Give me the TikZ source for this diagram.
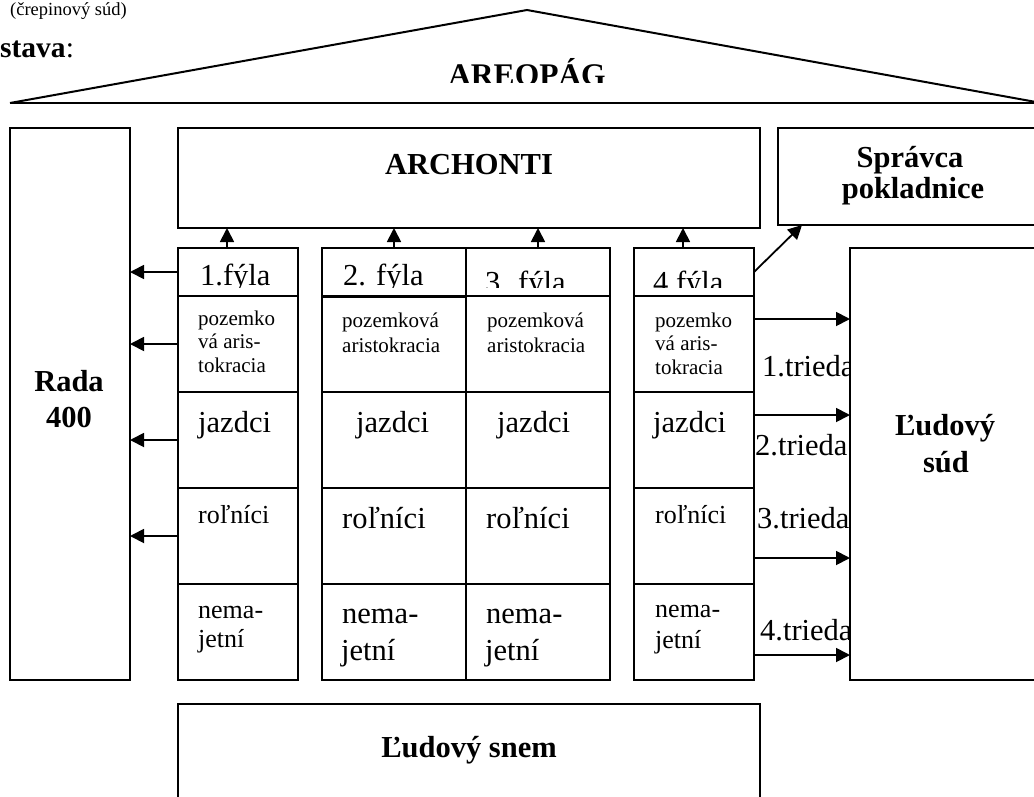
\documentclass[tikz,border=0pt]{standalone}
\usepackage{fontspec}
\setmainfont{Liberation Serif}
\usetikzlibrary{arrows.meta}
\begin{document}
\begin{tikzpicture}[x=1pt,y=-1pt,
  box/.style={draw, line width=2pt, inner sep=0pt, outer sep=0pt},
  arr/.style={line width=1.8pt, -{Triangle[length=14pt,width=14pt]}},
  big/.style={anchor=base west, inner sep=0pt, font=\fontsize{30.5}{34}\selectfont},
  med/.style={anchor=base west, inner sep=0pt, font=\fontsize{26}{29}\selectfont},
  small/.style={anchor=base west, inner sep=0pt, font=\fontsize{21}{23.5}\selectfont},
  ttl/.style={anchor=base, inner sep=0pt, font=\fontsize{30.5}{34}\selectfont\bfseries},
]
\useasboundingbox[fill=white] (0,0) rectangle (1034,796);

% header texts top-left
\node[anchor=base west, inner sep=0pt, font=\fontsize{18.5}{20}\selectfont] (crep) at (10,15) {(črepinový súd)};
\node[anchor=base west, inner sep=0pt, font=\fontsize{29.5}{32}\selectfont] (stava) at (0,57) {\textbf{stava}:};

% roof
\coordinate (roofL) at (10,103);
\coordinate (roofT) at (527,10);
\coordinate (roofR) at (1036,102);
\coordinate (baseR) at (1040,103);
\draw[line width=2pt] (roofL) -- (roofT) -- (roofR);
\draw[line width=2pt] (roofL) -- (baseR);
\begin{scope}
  \clip (0,0) rectangle (1034,82);
  \node[ttl, font=\fontsize{31.5}{34}\selectfont\bfseries] (areo) at (527,85) {AREOPÁG};
\end{scope}

% main boxes
\node[box, minimum width=120pt, minimum height=552pt] (rada) at (70,404) {};
\node[box, minimum width=582pt, minimum height=100pt] (arch) at (469,178) {};
\node[box, minimum width=267pt, minimum height=97pt] (sprav) at (911.5,176.5) {};
\node[box, minimum width=582pt, minimum height=106pt] (snem) at (469,757) {};

\node[ttl] (tarch) at (469,174) {ARCHONTI};
\node[ttl] (tspr1) at (910,167) {Správca};
\node[ttl] (tspr2) at (913,198) {pokladnice};
\node[ttl] (trada1) at (69,391) {Rada};
\node[ttl] (trada2) at (69,427) {400};
\node[ttl] (tsnem) at (469,757) {Ľudový snem};

% columns (fýly)
\foreach \c/\xl/\w in {1/178/120, 2/322/144, 3/466/144, 4/634/120} {
  \node[box, minimum width=\w pt, minimum height=48pt] (c\c-h) at ({\xl+\w/2}, 272) {};
  \foreach \r in {1,...,4}
    \node[box, minimum width=\w pt, minimum height=96pt] (c\c-\r) at ({\xl+\w/2}, {296+96*\r-48}) {};
}
\draw[line width=3pt] (c2-h.south west) -- (c2-h.south east);

% fýla headers (clipped at bottom)
\begin{scope}
  \clip (170,240) rectangle (760,287);
  \node[big] (h1) at (200,285) {1.fýla};
  \node[big] (h2) at (343,285) {2. fýla};
  \node[big] (h3) at (485,292) {3. fýla};
  \node[big] (h4) at (653,292) {4.fýla};
\end{scope}

% column 1
\node[small] (a1) at (198,325) {pozemko};
\node[small] (a2) at (198,348) {vá aris-};
\node[small] (a3) at (198,372) {tokracia};
\node[big] (a4) at (198,432) {jazdci};
\node[med] (a5) at (198,523) {roľníci};
\node[med] (a6) at (198,618) {nema-};
\node[med] (a7) at (198,647) {jetní};

% column 2
\node[small] (b1) at (342,327) {pozemková};
\node[small] (b2) at (342,352) {aristokracia};
\node[big] (b3) at (356,432) {jazdci};
\node[big] (b4) at (342,528) {roľníci};
\node[big] (b5) at (342,623) {nema-};
\node[big] (b6) at (341,660) {jetní};

% column 3
\node[small] (d1) at (487,327) {pozemková};
\node[small] (d2) at (487,352) {aristokracia};
\node[big] (d3) at (497,432) {jazdci};
\node[big] (d4) at (486,528) {roľníci};
\node[big] (d5) at (486,623) {nema-};
\node[big] (d6) at (485,660) {jetní};

% column 4
\node[small] (e1) at (655,327) {pozemko};
\node[small] (e2) at (655,350) {vá aris-};
\node[small] (e3) at (655,374) {tokracia};
\node[big] (e4) at (653,432) {jazdci};
\node[med] (e5) at (655,523) {roľníci};
\node[med] (e6) at (655,617) {nema-};
\node[med] (e7) at (655,648) {jetní};

% trieda labels (partly hidden by the court box)
\node[big] (t1) at (762,376) {1.trieda};
\node[big] (t2) at (755,455) {2.trieda};
\node[big] (t3) at (757,528) {3.trieda};
\node[big] (t4) at (760,640) {4.trieda};

% people's court
\node[box, fill=white, minimum width=195pt, minimum height=432pt] (sud) at (947.5,464) {};
\node[ttl] (tsud1) at (945,435) {Ľudový};
\node[ttl] (tsud2) at (946,472) {súd};

% arrows up to archons
\foreach \c/\dx in {1/-11, 2/0, 3/0, 4/-11} {
  \coordinate (u\c) at ([xshift=\dx pt]c\c-h.north);
  \draw[arr] (u\c) -- (arch.south -| u\c);
}
% arrows left to Rada
\foreach \n in {h,1,2,3}
  \draw[arr] (c1-\n.west) -- (rada.east |- c1-\n.west);
% arrows right to court
\foreach \n/\y in {1/319, 2/415, 3/558, 4/655} {
  \coordinate (ra\n) at (c4-\n.east |- 0,\y);
  \draw[arr] (ra\n) -- (sud.west |- ra\n);
}
% arrow to treasurer
\draw[arr] (c4-h.east) -- ([xshift=24pt]sprav.south west);
\end{tikzpicture}
\end{document}
